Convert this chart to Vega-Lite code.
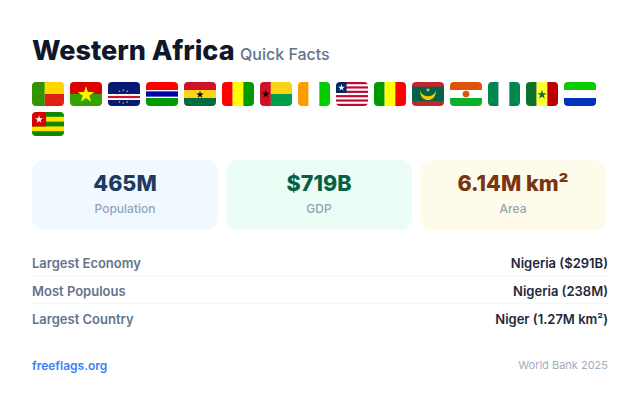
{
  "$schema": "https://vega.github.io/schema/vega-lite/v6.json",
  "background": "#ffffff",
  "padding": {"left": 31, "right": 33, "top": 30, "bottom": 26},
  "config": {
    "view": {"stroke": null},
    "font": "Inter",
    "axis": {"disable": true},
    "legend": {"disable": true}
  },
  "spacing": 24,
  "vconcat": [
    {
      "spacing": 10,
      "vconcat": [
        {
          "width": 576,
          "height": 42,
          "data": {"values": [{"region": "Western Africa", "subtitle": "Quick Facts"}]},
          "layer": [
            {
              "mark": {"type": "text", "align": "left", "baseline": "alphabetic", "dy": 9, "fontSize": 27, "fontWeight": 800, "color": "#0f172a"},
              "encoding": {
                "x": {"datum": "region", "type": "nominal", "scale": {"type": "point", "padding": 0, "domain": ["region", "subtitle"], "range": [0, 208]}},
                "text": {"field": "region"}
              }
            },
            {
              "mark": {"type": "text", "align": "left", "baseline": "alphabetic", "dy": 9, "fontSize": 16, "fontWeight": 500, "color": "#64748b"},
              "encoding": {
                "x": {"datum": "subtitle", "type": "nominal", "scale": {"type": "point", "padding": 0, "domain": ["region", "subtitle"], "range": [0, 208]}},
                "text": {"field": "subtitle"}
              }
            }
          ]
        },
        {
          "data": {"values": [
            {"part": "stripe", "country": "Benin", "left": 0, "right": 40, "top": 0, "bottom": 100, "colour": "benin green"},
            {"part": "stripe", "country": "Benin", "left": 40, "right": 100, "top": 0, "bottom": 50, "colour": "benin yellow"},
            {"part": "stripe", "country": "Benin", "left": 40, "right": 100, "top": 50, "bottom": 100, "colour": "benin red"},
            {"part": "stripe", "country": "Burkina Faso", "left": 0, "right": 100, "top": 0, "bottom": 50, "colour": "burkina red"},
            {"part": "stripe", "country": "Burkina Faso", "left": 0, "right": 100, "top": 50, "bottom": 100, "colour": "burkina green"},
            {"part": "emblem", "country": "Burkina Faso", "across": 50, "down": 53, "kind": "star", "emblem": "burkina", "colour": "burkina star"},
            {"part": "stripe", "country": "Cape Verde", "left": 0, "right": 100, "top": 0, "bottom": 100, "colour": "verde blue"},
            {"part": "stripe", "country": "Cape Verde", "left": 0, "right": 100, "top": 50, "bottom": 75, "colour": "white"},
            {"part": "stripe", "country": "Cape Verde", "left": 0, "right": 100, "top": 58, "bottom": 67, "colour": "verde red"},
            {"part": "emblem", "country": "Cape Verde", "across": 48, "down": 34, "kind": "star", "emblem": "ring", "colour": "verde star"},
            {"part": "emblem", "country": "Cape Verde", "across": 60, "down": 39, "kind": "star", "emblem": "ring", "colour": "verde star"},
            {"part": "emblem", "country": "Cape Verde", "across": 67, "down": 53, "kind": "star", "emblem": "ring", "colour": "verde star"},
            {"part": "emblem", "country": "Cape Verde", "across": 67, "down": 69, "kind": "star", "emblem": "ring", "colour": "verde star"},
            {"part": "emblem", "country": "Cape Verde", "across": 60, "down": 83, "kind": "star", "emblem": "ring", "colour": "verde star"},
            {"part": "emblem", "country": "Cape Verde", "across": 48, "down": 88, "kind": "star", "emblem": "ring", "colour": "verde star"},
            {"part": "emblem", "country": "Cape Verde", "across": 36, "down": 83, "kind": "star", "emblem": "ring", "colour": "verde star"},
            {"part": "emblem", "country": "Cape Verde", "across": 29, "down": 69, "kind": "star", "emblem": "ring", "colour": "verde star"},
            {"part": "emblem", "country": "Cape Verde", "across": 29, "down": 53, "kind": "star", "emblem": "ring", "colour": "verde star"},
            {"part": "emblem", "country": "Cape Verde", "across": 36, "down": 39, "kind": "star", "emblem": "ring", "colour": "verde star"},
            {"part": "stripe", "country": "Gambia", "left": 0, "right": 100, "top": 0, "bottom": 33.3, "colour": "pure red"},
            {"part": "stripe", "country": "Gambia", "left": 0, "right": 100, "top": 33.3, "bottom": 66.7, "colour": "white"},
            {"part": "stripe", "country": "Gambia", "left": 0, "right": 100, "top": 39, "bottom": 61, "colour": "gambia blue"},
            {"part": "stripe", "country": "Gambia", "left": 0, "right": 100, "top": 66.7, "bottom": 100, "colour": "gambia green"},
            {"part": "stripe", "country": "Ghana", "left": 0, "right": 100, "top": 0, "bottom": 33.3, "colour": "ghana red"},
            {"part": "stripe", "country": "Ghana", "left": 0, "right": 100, "top": 33.3, "bottom": 66.7, "colour": "ghana gold"},
            {"part": "stripe", "country": "Ghana", "left": 0, "right": 100, "top": 66.7, "bottom": 100, "colour": "ghana green"},
            {"part": "emblem", "country": "Ghana", "across": 50, "down": 53, "kind": "star", "emblem": "ghana", "colour": "black"},
            {"part": "stripe", "country": "Guinea", "left": 0, "right": 33.3, "top": 0, "bottom": 100, "colour": "pure red"},
            {"part": "stripe", "country": "Guinea", "left": 33.3, "right": 66.7, "top": 0, "bottom": 100, "colour": "pure yellow"},
            {"part": "stripe", "country": "Guinea", "left": 66.7, "right": 100, "top": 0, "bottom": 100, "colour": "guinea green"},
            {"part": "stripe", "country": "Guinea-Bissau", "left": 0, "right": 34, "top": 0, "bottom": 100, "colour": "ghana red"},
            {"part": "stripe", "country": "Guinea-Bissau", "left": 34, "right": 100, "top": 0, "bottom": 50, "colour": "ghana gold"},
            {"part": "stripe", "country": "Guinea-Bissau", "left": 34, "right": 100, "top": 50, "bottom": 100, "colour": "bissau green"},
            {"part": "emblem", "country": "Guinea-Bissau", "across": 18, "down": 50, "kind": "star", "emblem": "bissau", "colour": "black"},
            {"part": "stripe", "country": "Côte d'Ivoire", "left": 0, "right": 33.3, "top": 0, "bottom": 100, "colour": "ivoire orange"},
            {"part": "stripe", "country": "Côte d'Ivoire", "left": 33.3, "right": 66.7, "top": 0, "bottom": 100, "colour": "white"},
            {"part": "stripe", "country": "Côte d'Ivoire", "left": 66.7, "right": 100, "top": 0, "bottom": 100, "colour": "ivoire green"},
            {"part": "stripe", "country": "Liberia", "left": 0, "right": 100, "top": 0, "bottom": 100, "colour": "liberia red"},
            {"part": "stripe", "country": "Liberia", "left": 0, "right": 100, "top": 9.1, "bottom": 18.2, "colour": "white"},
            {"part": "stripe", "country": "Liberia", "left": 0, "right": 100, "top": 27.3, "bottom": 36.4, "colour": "white"},
            {"part": "stripe", "country": "Liberia", "left": 0, "right": 100, "top": 45.5, "bottom": 54.5, "colour": "white"},
            {"part": "stripe", "country": "Liberia", "left": 0, "right": 100, "top": 63.6, "bottom": 72.7, "colour": "white"},
            {"part": "stripe", "country": "Liberia", "left": 0, "right": 100, "top": 81.8, "bottom": 90.9, "colour": "white"},
            {"part": "stripe", "country": "Liberia", "left": 0, "right": 33, "top": 0, "bottom": 45.5, "colour": "liberia navy"},
            {"part": "emblem", "country": "Liberia", "across": 17, "down": 24, "kind": "star", "emblem": "liberia", "colour": "white"},
            {"part": "stripe", "country": "Mali", "left": 0, "right": 33.3, "top": 0, "bottom": 100, "colour": "guinea green"},
            {"part": "stripe", "country": "Mali", "left": 33.3, "right": 66.7, "top": 0, "bottom": 100, "colour": "pure yellow"},
            {"part": "stripe", "country": "Mali", "left": 66.7, "right": 100, "top": 0, "bottom": 100, "colour": "pure red"},
            {"part": "stripe", "country": "Mauritania", "left": 0, "right": 100, "top": 0, "bottom": 100, "colour": "mauritania red"},
            {"part": "stripe", "country": "Mauritania", "left": 0, "right": 100, "top": 20, "bottom": 80, "colour": "mauritania green"},
            {"part": "emblem", "country": "Mauritania", "across": 50, "down": 33, "kind": "star", "emblem": "mauritania", "colour": "mauritania gold"},
            {"part": "emblem", "country": "Mauritania", "across": 50, "down": 55, "kind": "crescent", "emblem": "crescent", "colour": "mauritania gold"},
            {"part": "stripe", "country": "Niger", "left": 0, "right": 100, "top": 0, "bottom": 33.3, "colour": "niger orange"},
            {"part": "stripe", "country": "Niger", "left": 0, "right": 100, "top": 33.3, "bottom": 66.7, "colour": "white"},
            {"part": "stripe", "country": "Niger", "left": 0, "right": 100, "top": 66.7, "bottom": 100, "colour": "niger green"},
            {"part": "emblem", "country": "Niger", "across": 50, "down": 50, "kind": "disc", "emblem": "disc", "colour": "niger orange"},
            {"part": "stripe", "country": "Nigeria", "left": 0, "right": 33.3, "top": 0, "bottom": 100, "colour": "nigeria green"},
            {"part": "stripe", "country": "Nigeria", "left": 33.3, "right": 66.7, "top": 0, "bottom": 100, "colour": "white"},
            {"part": "stripe", "country": "Nigeria", "left": 66.7, "right": 100, "top": 0, "bottom": 100, "colour": "nigeria green"},
            {"part": "stripe", "country": "Senegal", "left": 0, "right": 33.3, "top": 0, "bottom": 100, "colour": "senegal green"},
            {"part": "stripe", "country": "Senegal", "left": 33.3, "right": 66.7, "top": 0, "bottom": 100, "colour": "senegal yellow"},
            {"part": "stripe", "country": "Senegal", "left": 66.7, "right": 100, "top": 0, "bottom": 100, "colour": "senegal red"},
            {"part": "emblem", "country": "Senegal", "across": 50, "down": 53, "kind": "star", "emblem": "senegal", "colour": "senegal green"},
            {"part": "stripe", "country": "Sierra Leone", "left": 0, "right": 100, "top": 0, "bottom": 33.3, "colour": "leone green"},
            {"part": "stripe", "country": "Sierra Leone", "left": 0, "right": 100, "top": 33.3, "bottom": 66.7, "colour": "white"},
            {"part": "stripe", "country": "Sierra Leone", "left": 0, "right": 100, "top": 66.7, "bottom": 100, "colour": "leone blue"},
            {"part": "stripe", "country": "Togo", "left": 0, "right": 100, "top": 0, "bottom": 100, "colour": "togo green"},
            {"part": "stripe", "country": "Togo", "left": 0, "right": 100, "top": 20, "bottom": 40, "colour": "togo yellow"},
            {"part": "stripe", "country": "Togo", "left": 0, "right": 100, "top": 60, "bottom": 80, "colour": "togo yellow"},
            {"part": "stripe", "country": "Togo", "left": 0, "right": 44, "top": 0, "bottom": 60, "colour": "togo red"},
            {"part": "emblem", "country": "Togo", "across": 22, "down": 31, "kind": "star", "emblem": "togo", "colour": "white"}
          ]},
          "columns": 15,
          "spacing": 6,
          "facet": {
            "field": "country",
            "type": "nominal",
            "title": null,
            "header": {"title": null, "labelExpr": "''", "labelFontSize": 0, "labelPadding": 0, "titlePadding": 0},
            "sort": ["Benin", "Burkina Faso", "Cape Verde", "Gambia", "Ghana", "Guinea", "Guinea-Bissau", "Côte d'Ivoire", "Liberia", "Mali", "Mauritania", "Niger", "Nigeria", "Senegal", "Sierra Leone", "Togo"]
          },
          "spec": {
            "width": 32,
            "height": 24,
            "layer": [
              {
                "transform": [{"filter": {"field": "part", "equal": "stripe"}}],
                "mark": "rect",
                "encoding": {
                  "x": {"field": "left", "type": "quantitative", "scale": {"domain": [0, 100], "nice": false}},
                  "x2": {"field": "right"},
                  "y": {"field": "top", "type": "quantitative", "scale": {"domain": [0, 100], "nice": false, "reverse": true}},
                  "y2": {"field": "bottom"},
                  "color": {"field": "colour", "type": "nominal"}
                }
              },
              {
                "transform": [{"filter": {"field": "part", "equal": "emblem"}}],
                "mark": {"type": "point", "filled": true, "opacity": 1},
                "encoding": {
                  "x": {"field": "across", "type": "quantitative", "scale": {"domain": [0, 100], "nice": false}},
                  "y": {"field": "down", "type": "quantitative", "scale": {"domain": [0, 100], "nice": false, "reverse": true}},
                  "shape": {
                    "field": "kind",
                    "type": "nominal",
                    "scale": {
                      "domain": ["star", "disc", "crescent"],
                      "range": [
                        "M0,-1L.22,-.31L.95,-.31L.36,.12L.59,.81L0,.38L-.59,.81L-.36,.12L-.95,-.31L-.22,-.31Z",
                        "circle",
                        "M-.8,-.45C-.8,.8 .8,.8 .8,-.45C.5,.3 -.5,.3 -.8,-.45Z"
                      ]
                    }
                  },
                  "size": {
                    "field": "emblem",
                    "type": "nominal",
                    "scale": {
                      "type": "ordinal",
                      "domain": ["ring", "mauritania", "liberia", "ghana", "bissau", "togo", "senegal", "burkina", "disc", "crescent"],
                      "range": [6, 24, 50, 60, 70, 70, 95, 310, 45, 400]
                    }
                  },
                  "color": {
                    "field": "colour",
                    "type": "nominal",
                    "scale": {
                      "domain": ["white", "black", "pure red", "pure yellow", "benin green", "benin yellow", "benin red", "burkina red", "burkina green", "burkina star", "verde blue", "verde red", "verde star", "gambia blue", "gambia green", "ghana red", "ghana gold", "ghana green", "guinea green", "bissau green", "ivoire orange", "ivoire green", "liberia red", "liberia navy", "mauritania red", "mauritania green", "mauritania gold", "niger orange", "niger green", "nigeria green", "senegal green", "senegal yellow", "senegal red", "leone green", "leone blue", "togo green", "togo yellow", "togo red"],
                      "range": ["#ffffff", "#000000", "#ff0000", "#ffff00", "#319400", "#ffd600", "#de2110", "#de0000", "#35a100", "#fff300", "#081873", "#d21034", "#f7d116", "#0000a8", "#009a00", "#ce1126", "#fcd116", "#006b3f", "#009a00", "#009e49", "#ff9a00", "#00cd00", "#bf0a30", "#002868", "#c1272d", "#00634a", "#ffc400", "#e05206", "#0db02b", "#008751", "#0b7226", "#ffff33", "#bc0000", "#0ccc00", "#0033b8", "#118600", "#ffe300", "#d80000"]
                    }
                  }
                }
              },
              {
                "transform": [{"aggregate": [{"op": "count", "as": "parts"}]}],
                "mark": {
                  "type": "point",
                  "filled": true,
                  "opacity": 1,
                  "color": "#ffffff",
                  "size": 1024,
                  "shape": "M-1,-.75H1V.75H-1ZM-.75,-.75Q-1,-.75 -1,-.5V.5Q-1,.75 -.75,.75H.75Q1,.75 1,.5V-.5Q1,-.75 .75,-.75Z"
                },
                "encoding": {}
              }
            ]
          }
        }
      ]
    },
    {
      "spacing": 19,
      "vconcat": [
        {
          "width": 574,
          "height": 70,
          "data": {"values": [
            {"metric": "Population", "total": "465M"},
            {"metric": "GDP", "total": "$719B"},
            {"metric": "Area", "total": "6.14M km²"}
          ]},
          "encoding": {
            "x": {"field": "metric", "type": "nominal", "sort": null, "scale": {"type": "band", "paddingInner": 0.0412, "paddingOuter": 0}}
          },
          "layer": [
            {
              "mark": {"type": "bar", "cornerRadius": 12},
              "encoding": {
                "color": {"field": "metric", "type": "nominal", "sort": null, "scale": {"domain": ["Population", "GDP", "Area"], "range": ["#f0f9ff", "#ecfdf5", "#fffbeb"]}}
              }
            },
            {
              "mark": {"type": "text", "dy": -10, "fontSize": 21.5, "fontWeight": 800},
              "encoding": {
                "text": {"field": "total"},
                "color": {"field": "metric", "type": "nominal", "sort": null, "scale": {"domain": ["Population", "GDP", "Area"], "range": ["#1e3a5f", "#065f46", "#78350f"]}}
              }
            },
            {
              "mark": {"type": "text", "dy": 14, "fontSize": 12, "fontWeight": 500, "color": "#94a3b8"},
              "encoding": {"text": {"field": "metric"}}
            }
          ],
          "resolve": {"scale": {"color": "independent"}}
        },
        {
          "width": 576,
          "height": 84,
          "data": {"values": [
            {"fact": "Largest Economy", "answer": "Nigeria ($291B)"},
            {"fact": "Most Populous", "answer": "Nigeria (238M)"},
            {"fact": "Largest Country", "answer": "Niger (1.27M km²)"}
          ]},
          "encoding": {
            "y": {"field": "fact", "type": "nominal", "sort": null, "scale": {"type": "band", "padding": 0}}
          },
          "layer": [
            {
              "transform": [{"filter": "datum.fact != 'Largest Country'"}],
              "mark": {"type": "rule", "color": "#f1f5f9", "strokeWidth": 1},
              "encoding": {
                "y": {"field": "fact", "type": "nominal", "sort": null, "bandPosition": 0.96, "scale": {"type": "band", "padding": 0}}
              }
            },
            {
              "mark": {"type": "text", "align": "left", "dy": 1, "fontSize": 13, "fontWeight": 600, "color": "#64748b"},
              "encoding": {
                "x": {"datum": "start", "type": "nominal", "scale": {"type": "point", "domain": ["start", "end"], "padding": 0}},
                "text": {"field": "fact"}
              }
            },
            {
              "mark": {"type": "text", "align": "right", "dy": 1, "fontSize": 13, "fontWeight": 600, "color": "#1e293b"},
              "encoding": {
                "x": {"datum": "end", "type": "nominal", "scale": {"type": "point", "domain": ["start", "end"], "padding": 0}},
                "text": {"field": "answer"}
              }
            }
          ]
        },
        {
          "width": 576,
          "height": 28,
          "data": {"values": [{"site": "freeflags.org", "source": "World Bank 2025"}]},
          "layer": [
            {
              "mark": {"type": "text", "align": "left", "fontSize": 12, "fontWeight": 600, "color": "#3b82f6"},
              "encoding": {
                "x": {"datum": "start", "type": "nominal", "scale": {"type": "point", "domain": ["start", "end"], "padding": 0}},
                "text": {"field": "site"}
              }
            },
            {
              "mark": {"type": "text", "align": "right", "fontSize": 11, "fontWeight": 400, "color": "#a0aec0"},
              "encoding": {
                "x": {"datum": "end", "type": "nominal", "scale": {"type": "point", "domain": ["start", "end"], "padding": 0}},
                "text": {"field": "source"}
              }
            }
          ]
        }
      ]
    }
  ]
}
